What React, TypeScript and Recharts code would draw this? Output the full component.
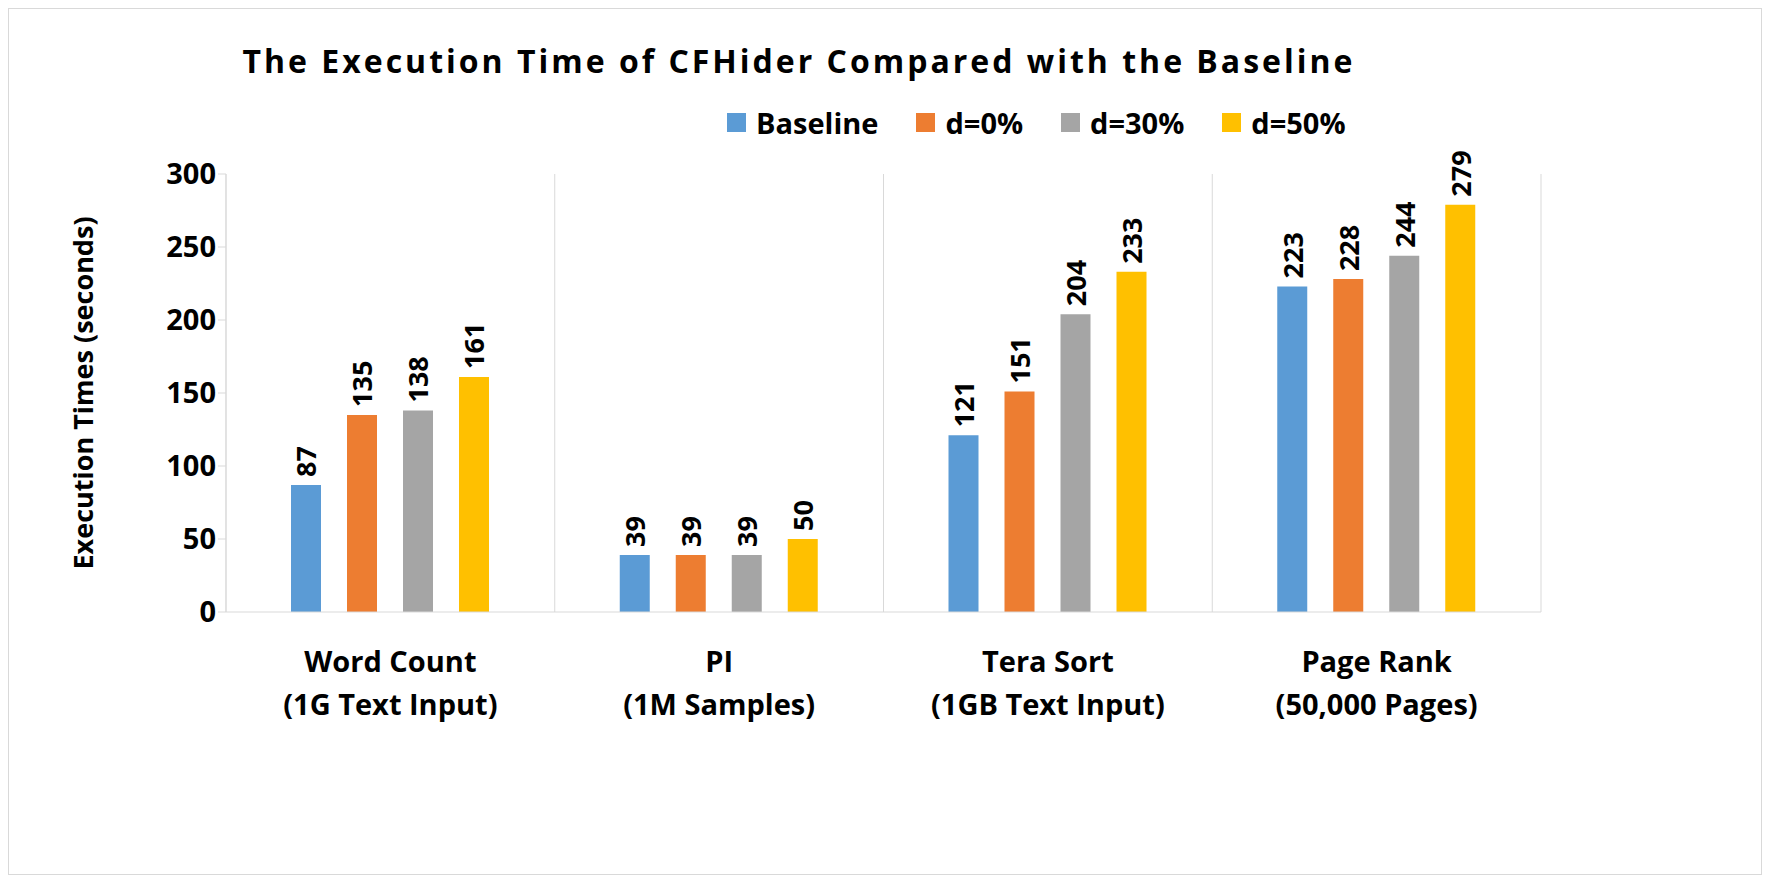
import React from "react";
import { BarChart, Bar, XAxis, YAxis, CartesianGrid, LabelList } from "recharts";

const categories = ["Word Count|(1G Text Input)", "PI|(1M Samples)", "Tera Sort|(1GB Text Input)", "Page Rank|(50,000 Pages)"];
const baseline = [87, 39, 121, 223];
const d0 = [135, 39, 151, 228];
const d30 = [138, 39, 204, 244];
const d50 = [161, 50, 233, 279];
const yTicks = [0, 50, 100, 150, 200, 250, 300];

const series = [
  { key: "baseline", name: "Baseline", color: "#5b9bd5" },
  { key: "d0", name: "d=0%", color: "#ed7d31" },
  { key: "d30", name: "d=30%", color: "#a5a5a5" },
  { key: "d50", name: "d=50%", color: "#ffc000" },
];

const data = categories.map((c, i) => ({ name: c, baseline: baseline[i], d0: d0[i], d30: d30[i], d50: d50[i] }));

const font = "'Open Sans', 'Liberation Sans', sans-serif";

const XTick = ({ x, y, payload }: any) => {
  const [a, b] = String(payload.value).split("|");
  return (
    <text x={x} y={y} textAnchor="middle" fontFamily={font} fontWeight={700} fontSize={29} fill="#000">
      <tspan x={x} dy={52}>{a}</tspan>
      <tspan x={x} dy={43}>{b}</tspan>
    </text>
  );
};

const ValueLabel = ({ x, y, width, value }: any) => {
  const cx = x + width / 2;
  const cy = y - 8;
  return (
    <text x={cx} y={cy} transform={`rotate(-90 ${cx} ${cy})`} textAnchor="start" dominantBaseline="central"
      fontFamily={font} fontWeight={700} fontSize={27} fill="#000">{value}</text>
  );
};

export default function App() {
  return (
    <div style={{ position: "relative", width: 1752, height: 865, border: "1px solid #d9d9d9", fontFamily: font }}>
      <div style={{ position: "absolute", left: 0, width: 1580, top: 30, textAlign: "center", fontSize: 32, fontWeight: 700, letterSpacing: 3 }}>
        The Execution Time of CFHider Compared with the Baseline
      </div>
      <div style={{ position: "absolute", left: 718, top: 94, display: "flex", fontSize: 29, fontWeight: 700 }}>
        {series.map((s) => (
          <div key={s.key} style={{ display: "flex", alignItems: "center", marginRight: 38 }}>
            <div style={{ width: 19, height: 19, background: s.color, marginRight: 10 }} />
            {s.name}
          </div>
        ))}
      </div>
      <BarChart width={1752} height={865} data={data} margin={{ top: 165, right: 220, bottom: 232, left: 0 }}
        barSize={30} barGap={26}>
        <CartesianGrid horizontal={false} stroke="#d9d9d9"
          verticalCoordinatesGenerator={({ offset }: any) => [0, 1, 2, 3, 4].map((i) => offset.left + (offset.width * i) / 4)} />
        <XAxis dataKey="name" tick={<XTick />} tickLine={false} axisLine={{ stroke: "#d9d9d9" }} interval={0} />
        <YAxis width={217} domain={[0, 300]} ticks={yTicks} tickLine={{ stroke: "#d9d9d9" }} tickSize={8} axisLine={{ stroke: "#d9d9d9" }}
          tick={{ fontFamily: font, fontWeight: 700, fontSize: 29, fill: "#000" }}
          label={{ value: "Execution Times (seconds)", angle: -90, position: "insideLeft", offset: 74, style: { textAnchor: "middle", fontFamily: font, fontWeight: 700, fontSize: 27, fill: "#000" } }} />
        {series.map((s) => (
          <Bar key={s.key} dataKey={s.key} name={s.name} fill={s.color} isAnimationActive={false}>
            <LabelList dataKey={s.key} content={<ValueLabel />} />
          </Bar>
        ))}
      </BarChart>
    </div>
  );
}
